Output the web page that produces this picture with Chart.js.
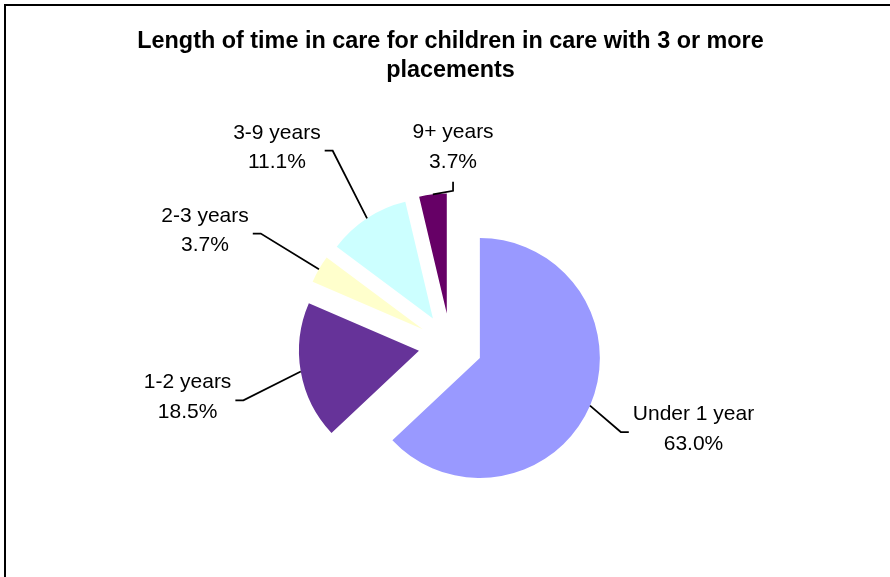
<!DOCTYPE html>
<html lang="en">
<head>
  <meta charset="UTF-8">
  <title>Length of time in care - children with 3 or more placements</title>
  <script src="https://cdn.jsdelivr.net/npm/chart.js"></script>
  <style>
    html, body { margin: 0; padding: 0; background: #fff; }
    canvas { display: block; }
  </style>
</head>
<body>
  <canvas id="pieChart" width="890" height="577"></canvas>

  <script>
    // Data
    const categories = ['Under 1 year', '1-2 years', '2-3 years', '3-9 years', '9+ years'];
    const percentages = [63.0, 18.5, 3.7, 11.1, 3.7];
    const sliceColors = ['#9999FF', '#663399', '#FFFFCC', '#CCFFFF', '#660066'];
    const chartTitle = ['Length of time in care for children in care with 3 or more', 'placements'];

    const FONT = "'Liberation Sans', Arial, sans-serif";
    const RADIUS = 120;
    const EXPLODE = 32; // px every slice is pulled out of the centre

    // chart.js "offset" also trims and grows the arc, so pull the slices out
    // by moving the arc centre instead (excel style exploded pie)
    const explode = {
      id: 'explode',
      beforeDatasetsDraw(chart) {
        const { chartArea } = chart;
        const cx = (chartArea.left + chartArea.right) / 2;
        const cy = (chartArea.top + chartArea.bottom) / 2;
        chart.getDatasetMeta(0).data.forEach(arc => {
          const mid = (arc.startAngle + arc.endAngle) / 2;
          arc.x = cx + Math.cos(mid) * EXPLODE;
          arc.y = cy + Math.sin(mid) * EXPLODE;
        });
      }
    };

    // black frame on the top and left edge
    const frame = {
      id: 'frame',
      beforeDraw(chart) {
        const { ctx, width, height } = chart;
        ctx.save();
        ctx.strokeStyle = '#000';
        ctx.lineWidth = 2;
        ctx.beginPath();
        ctx.moveTo(5, height);
        ctx.lineTo(5, 5);
        ctx.lineTo(width, 5);
        ctx.stroke();
        ctx.restore();
      }
    };

    // category + percent labels with leader lines
    const sliceLabels = {
      id: 'sliceLabels',
      afterDatasetsDraw(chart, args, opts) {
        const { ctx, chartArea } = chart;
        const pcx = (chartArea.left + chartArea.right) / 2;
        const pcy = (chartArea.top + chartArea.bottom) / 2;
        ctx.save();
        ctx.font = opts.font;
        ctx.fillStyle = '#000';
        ctx.strokeStyle = '#000';
        ctx.lineWidth = 1.75;
        ctx.textAlign = 'center';
        ctx.textBaseline = 'middle';

        chart.getDatasetMeta(0).data.forEach((arc, i) => {
          const mid = (arc.startAngle + arc.endAngle) / 2;
          const R = arc.outerRadius;
          // rim of the exploded slice on its bisector
          const sx = arc.x + Math.cos(mid) * R;
          const sy = arc.y + Math.sin(mid) * R;

          const [dAng, dRad] = opts.shift[i];
          const la = mid + dAng * Math.PI / 180;
          const cx = pcx + Math.cos(la) * (R + dRad);
          const cy = pcy + Math.sin(la) * (R + dRad);

          const lines = [categories[i], percentages[i].toFixed(1) + '%'];
          const w = Math.max(...lines.map(s => ctx.measureText(s).width));
          const h = lines.length * opts.lineHeight;
          lines.forEach((s, k) => {
            ctx.fillText(s, cx, cy - h / 2 + opts.lineHeight * (k + 0.5));
          });

          let ex, ey, bx, by;
          if (Math.abs(Math.cos(la)) < 0.3) {
            const dir = Math.sin(la) < 0 ? 1 : -1;
            ex = cx; ey = cy + dir * (h / 2 + 5);
            bx = ex; by = ey + dir * 9;
          } else {
            const side = Math.cos(la) > 0 ? -1 : 1;
            ex = cx + side * (w / 2 + 4); ey = cy + 3;
            bx = ex + side * 8; by = ey;
          }
          ctx.beginPath();
          ctx.moveTo(sx, sy);
          ctx.lineTo(bx, by);
          ctx.lineTo(ex, ey);
          ctx.stroke();
        });
        ctx.restore();
      }
    };

    new Chart(document.getElementById('pieChart'), {
      type: 'pie',
      data: {
        labels: categories,
        datasets: [{
          data: percentages,
          backgroundColor: sliceColors,
          borderWidth: 0
        }]
      },
      options: {
        responsive: false,
        animation: false,
        events: [],
        radius: RADIUS,
        layout: { padding: { left: 11, right: 0, top: 0, bottom: 0 } },
        plugins: {
          legend: { display: false },
          tooltip: { enabled: false },
          title: {
            display: true,
            text: chartTitle,
            color: '#000',
            font: { family: FONT, size: 23.4, weight: 'bold', lineHeight: 1.2 },
            padding: { top: 28, bottom: 29.5 }
          },
          sliceLabels: {
            font: '21px ' + FONT,
            lineHeight: 29.5,
            // [angle from bisector in degrees, distance past the rim] per slice
            shift: [[-4.4, 137], [-1.3, 148], [-5, 151], [-8, 143], [7.4, 78]]
          }
        }
      },
      plugins: [frame, explode, sliceLabels]
    });
  </script>
</body>
</html>
